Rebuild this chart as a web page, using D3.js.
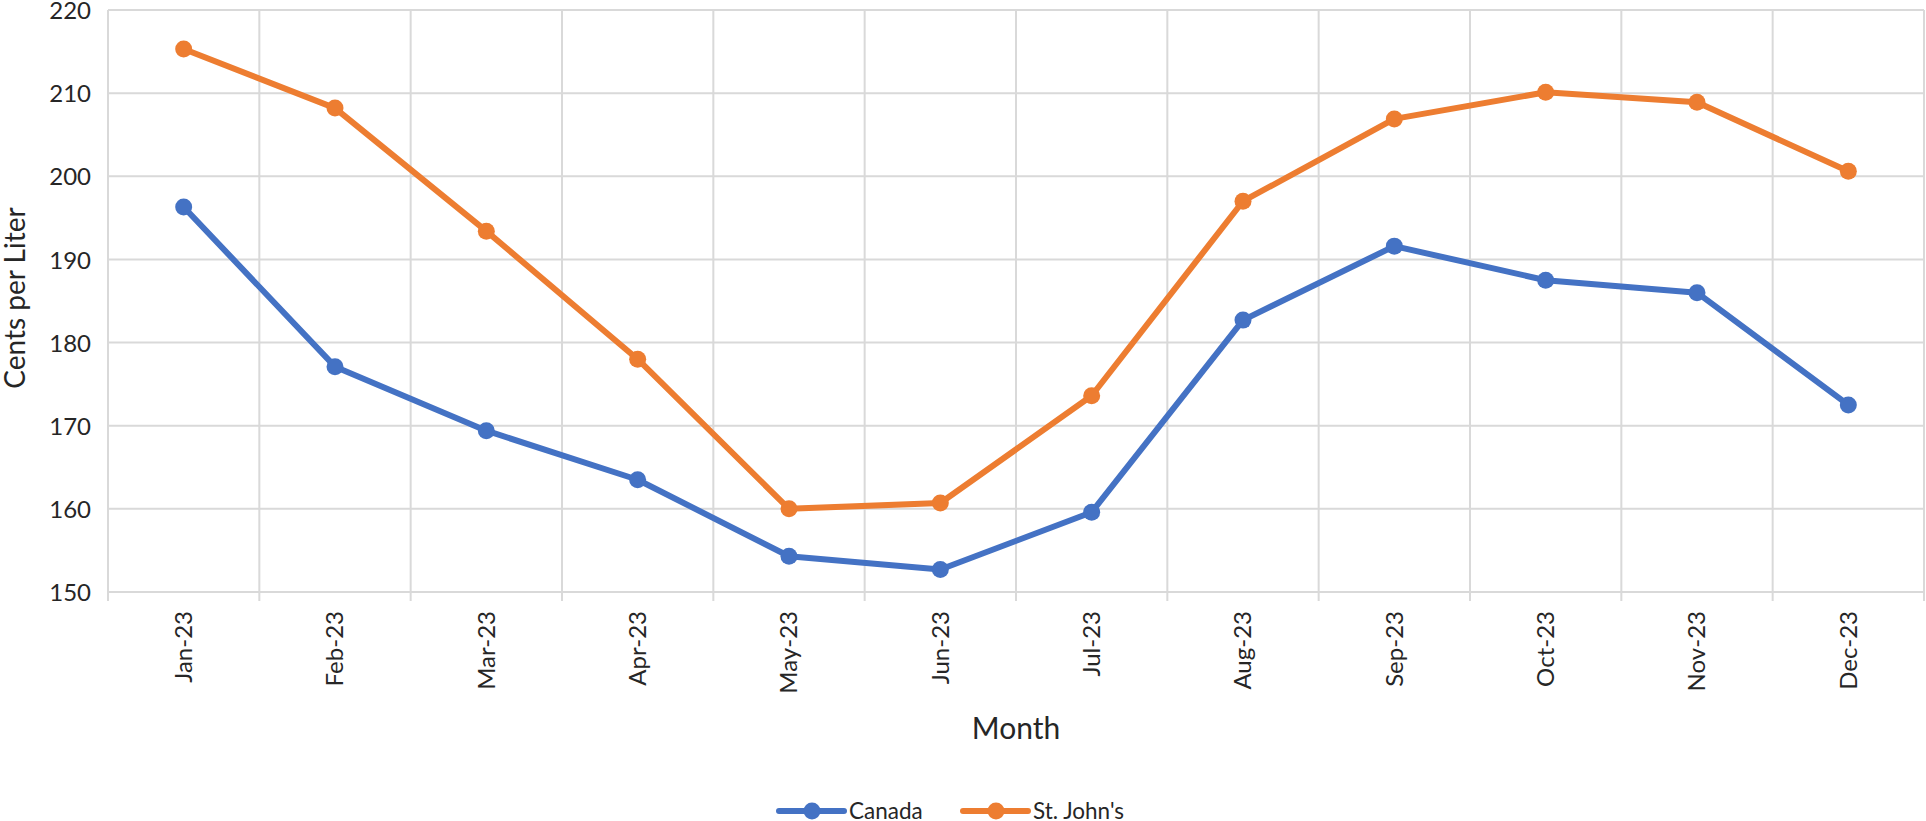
<!DOCTYPE html>
<html>
<head>
<meta charset="utf-8">
<script src="https://cdn.jsdelivr.net/npm/d3@7"></script>
<style>
  html, body { margin: 0; padding: 0; background: #fff; }
  svg { display: block; font-family: Lato, "Open Sans", sans-serif; }
</style>
</head>
<body>
<svg id="chart" width="1926" height="821"></svg>
<script>
const months = ["Jan-23","Feb-23","Mar-23","Apr-23","May-23","Jun-23","Jul-23","Aug-23","Sep-23","Oct-23","Nov-23","Dec-23"];
const canada = [196.3, 177.1, 169.4, 163.5, 154.3, 152.7, 159.6, 182.7, 191.6, 187.5, 186.0, 172.5];
const stJohns = [215.3, 208.2, 193.4, 178.0, 160.0, 160.7, 173.6, 197.0, 206.9, 210.1, 208.9, 200.6];
const yTicks = [150, 160, 170, 180, 190, 200, 210, 220];
const seriesNames = ["Canada", "St. John's"];
const seriesColors = ["#4472C4", "#ED7D31"];

const svg = d3.select("#chart");
const m = { left: 108, right: 1924, top: 10, bottom: 592 };

const x = d3.scaleBand().domain(months).range([m.left, m.right]).padding(0);
const y = d3.scaleLinear().domain([150, 220]).range([m.bottom, m.top]);

const grid = "#d9d9d9";
svg.append("g").selectAll("line").data(yTicks).join("line")
  .attr("x1", m.left).attr("x2", m.right)
  .attr("y1", d => y(d)).attr("y2", d => y(d))
  .attr("stroke", grid).attr("stroke-width", 2);
const edges = months.map(d => x(d)).concat([m.right]);
svg.append("g").selectAll("line").data(edges).join("line")
  .attr("x1", d => d).attr("x2", d => d)
  .attr("y1", m.top).attr("y2", m.bottom + 9)
  .attr("stroke", grid).attr("stroke-width", 2);

const yAxis = d3.axisLeft(y).tickValues(yTicks).tickSize(0).tickPadding(17);
const gy = svg.append("g").attr("transform", `translate(${m.left},0)`).call(yAxis);
gy.select(".domain").remove();
gy.selectAll("text").attr("font-size", 24).attr("fill", "#262626")
  .attr("font-family", "Lato, sans-serif").attr("dy", "0.36em");

const xAxis = d3.axisBottom(x).tickSize(0).tickPadding(0);
const gx = svg.append("g").attr("transform", `translate(0,${m.bottom})`).call(xAxis);
gx.select(".domain").remove();
gx.selectAll("text")
  .attr("font-size", 24).attr("fill", "#262626").attr("font-family", "Lato, sans-serif")
  .attr("text-anchor", "end").attr("dy", "0.35em").attr("dx", 0)
  .attr("y", 0)
  .attr("transform", "translate(0,19) rotate(-90)");

svg.append("text").attr("x", (m.left + m.right) / 2).attr("y", 739)
  .attr("text-anchor", "middle").attr("font-size", 30).attr("fill", "#262626")
  .text("Month");
svg.append("text")
  .attr("transform", `translate(15,298) rotate(-90)`)
  .attr("text-anchor", "middle").attr("dy", "0.35em").attr("font-size", 28).attr("fill", "#262626")
  .text("Cents per Liter");

const data = [canada, stJohns];
const line = d3.line().x((d, i) => x(months[i]) + x.bandwidth() / 2).y(d => y(d));
data.forEach((vals, si) => {
  const g = svg.append("g");
  g.append("path").datum(vals).attr("d", line)
    .attr("fill", "none").attr("stroke", seriesColors[si]).attr("stroke-width", 6)
    .attr("stroke-linejoin", "round");
  g.selectAll("circle").data(vals).join("circle")
    .attr("cx", (d, i) => x(months[i]) + x.bandwidth() / 2)
    .attr("cy", d => y(d)).attr("r", 8.5).attr("fill", seriesColors[si]);
});

const legX = [779, 963];
const lg = svg.append("g");
seriesNames.forEach((name, i) => {
  const g = lg.append("g").attr("transform", `translate(${legX[i]},811)`);
  g.append("line").attr("x1", 0).attr("x2", 65).attr("y1", 0).attr("y2", 0)
    .attr("stroke", seriesColors[i]).attr("stroke-width", 6).attr("stroke-linecap", "round");
  g.append("circle").attr("cx", 33).attr("cy", 0).attr("r", 8.5).attr("fill", seriesColors[i]);
  g.append("text").attr("x", 70).attr("y", 0).attr("dy", "0.35em")
    .attr("font-size", 22.5).attr("fill", "#262626").text(name);
});
</script>
</body>
</html>
